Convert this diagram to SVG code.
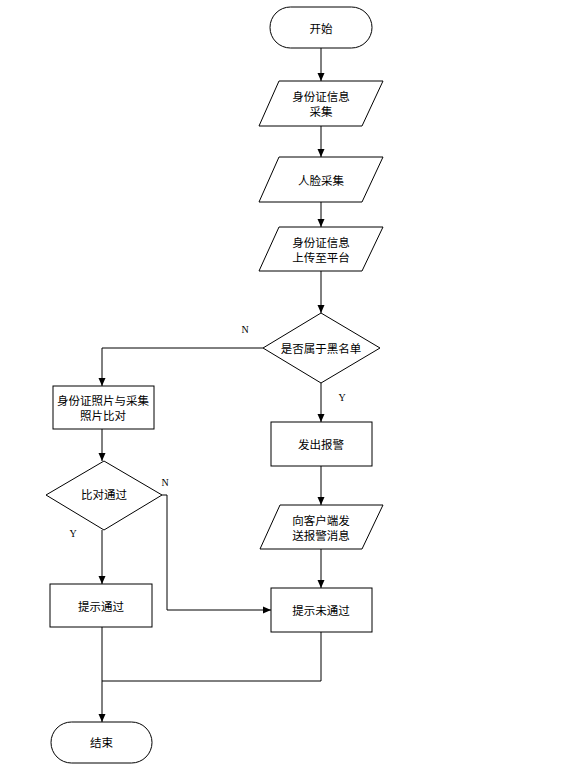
<svg xmlns="http://www.w3.org/2000/svg" width="572" height="772" viewBox="0 0 572 772">
<style>
.s{fill:#fff;stroke:#000;stroke-width:1}
.t{font-family:"Noto Sans CJK SC","Noto Sans",sans-serif;font-size:11.5px;fill:#000;text-anchor:middle;dominant-baseline:central}
.l{font-family:"Liberation Serif",serif;font-size:10px;fill:#000;text-anchor:middle;dominant-baseline:central}
.c{fill:none;stroke:#000;stroke-width:1}
</style>
<defs>
<marker id="a" markerWidth="10" markerHeight="10" refX="9" refY="5" orient="auto" markerUnits="userSpaceOnUse">
<path d="M1,1.5 L9,5 L1,8.5 Z" fill="#000"/>
</marker>
</defs>
<rect width="572" height="772" fill="#fff"/>
<g id="connectors">
<path class="c" d="M321,48 V81" marker-end="url(#a)"/>
<path class="c" d="M321,126 V157" marker-end="url(#a)"/>
<path class="c" d="M321,202 V227" marker-end="url(#a)"/>
<path class="c" d="M321,271 V313" marker-end="url(#a)"/>
<path class="c" d="M263,348 H102 V386" marker-end="url(#a)"/>
<path class="c" d="M321,383 V422" marker-end="url(#a)"/>
<path class="c" d="M321,466 V505" marker-end="url(#a)"/>
<path class="c" d="M321,549 V588" marker-end="url(#a)"/>
<path class="c" d="M102,429 V461" marker-end="url(#a)"/>
<path class="c" d="M102,530 V584" marker-end="url(#a)"/>
<path class="c" d="M162,495 H167 V610 H271" marker-end="url(#a)"/>
<path class="c" d="M102,627 V722" marker-end="url(#a)"/>
<path class="c" d="M321,632 V681 H102"/>
<text class="l" x="245" y="329">N</text>
<text class="l" x="342" y="397">Y</text>
<text class="l" x="165" y="482">N</text>
<text class="l" x="73" y="533">Y</text>
</g>
<g id="start"><rect class="s" x="270" y="7" width="102" height="41" rx="20.5"/><text class="t" x="321" y="27.5">开始</text></g>
<g id="id_collect"><polygon class="s" points="279,81 383,81 362,126 259,126"/><text class="t" x="321" y="96"><tspan x="321" y="95.5">身份证信息</tspan><tspan x="321" y="111">采集</tspan></text></g>
<g id="face_collect"><polygon class="s" points="279,157 383,157 362,202 259,202"/><text class="t" x="321" y="180">人脸采集</text></g>
<g id="upload"><polygon class="s" points="279,227 383,227 362,271 259,271"/><text class="t"><tspan x="321" y="241.5">身份证信息</tspan><tspan x="321" y="257">上传至平台</tspan></text></g>
<g id="blacklist"><polygon class="s" points="321,313 380,348 321,383 263,348"/><text class="t" x="321" y="348">是否属于黑名单</text></g>
<g id="compare"><rect class="s" x="53" y="386" width="101" height="43"/><text class="t"><tspan x="103" y="400">身份证照片与采集</tspan><tspan x="103" y="415">照片比对</tspan></text></g>
<g id="alarm"><rect class="s" x="271" y="422" width="101" height="44"/><text class="t" x="321" y="444">发出报警</text></g>
<g id="pass_check"><polygon class="s" points="104,461 162,495 104,530 46,495"/><text class="t" x="104" y="494">比对通过</text></g>
<g id="send_msg"><polygon class="s" points="280,505 383,505 362,549 260,549"/><text class="t"><tspan x="321" y="519.5">向客户端发</tspan><tspan x="321" y="534.5">送报警消息</tspan></text></g>
<g id="fail"><rect class="s" x="271" y="588" width="101" height="44"/><text class="t" x="321" y="610">提示未通过</text></g>
<g id="pass"><rect class="s" x="50" y="584" width="102" height="43"/><text class="t" x="101" y="606">提示通过</text></g>
<g id="end"><rect class="s" x="51" y="722" width="101" height="41" rx="20.5"/><text class="t" x="101.5" y="742">结束</text></g>
</svg>
